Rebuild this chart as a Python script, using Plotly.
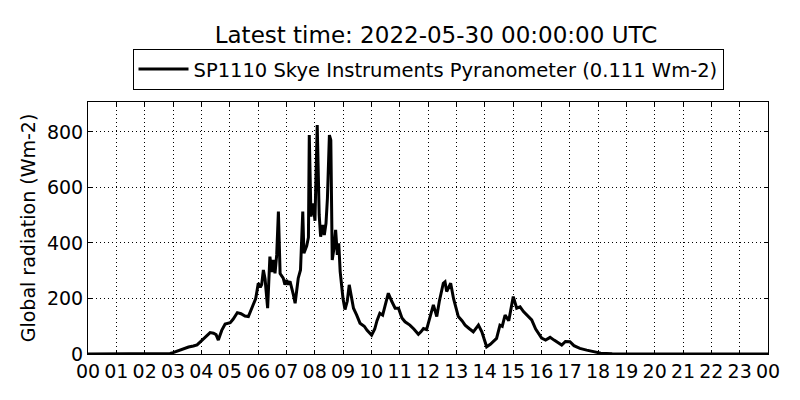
"""Global radiation for one day, SP1110 pyranometer."""

import plotly.graph_objects as go

# hour of day (UTC) and global radiation (Wm-2)
hours = [
    0.0, 1.0, 2.0, 2.5, 2.9, 3.0, 3.2, 3.36, 3.55, 3.72, 3.85, 4.01, 4.2, 4.31,
    4.43, 4.52, 4.6, 4.72, 4.84, 4.95, 5.02, 5.12, 5.27, 5.4, 5.54, 5.66, 5.75,
    5.84, 5.92, 6.01, 6.08, 6.13, 6.19, 6.25, 6.34, 6.42, 6.49, 6.54, 6.6, 6.66,
    6.72, 6.78, 6.89, 6.95, 7.01, 7.07, 7.13, 7.25, 7.31, 7.42, 7.5, 7.58, 7.62,
    7.72, 7.78, 7.81, 7.87, 7.95, 8.01, 8.09, 8.16, 8.21, 8.29, 8.34, 8.4, 8.45,
    8.52, 8.57, 8.62, 8.68, 8.74, 8.8, 8.85, 8.9, 9.0, 9.07, 9.15, 9.22, 9.3,
    9.37, 9.48, 9.6, 9.75, 9.85, 10.01, 10.12, 10.2, 10.3, 10.4, 10.5, 10.6,
    10.72, 10.84, 10.96, 11.08, 11.19, 11.3, 11.36, 11.5, 11.66, 11.75, 11.84,
    11.95, 12.1, 12.19, 12.31, 12.4, 12.54, 12.6, 12.66, 12.8, 12.9, 13.07,
    13.2, 13.31, 13.45, 13.6, 13.78, 13.9, 14.07, 14.2, 14.42, 14.54, 14.62,
    14.72, 14.85, 15.01, 15.13, 15.25, 15.37, 15.5, 15.66, 15.8, 16.01, 16.15,
    16.31, 16.45, 16.6, 16.72, 16.85, 17.01, 17.15, 17.36, 17.6, 17.83, 18.1,
    18.5, 19.0, 20.0, 21.0, 22.0, 23.0, 24.0,
]
radiation = [
    0, 0, 0, 1, 2, 5, 12, 20, 25, 29, 33, 48, 65, 77,
    75, 70, 50, 85, 108, 110, 113, 125, 149, 145, 137, 135, 160,
    183, 200, 255, 240, 250, 303, 270, 165, 351, 295, 339, 291, 357,
    513, 290, 273, 250, 267, 250, 262, 213, 183, 273, 303, 513, 363,
    390, 420, 789, 495, 543, 480, 825, 501, 423, 465, 429, 471, 561,
    789, 770, 339, 380, 447, 357, 399, 297, 200, 160, 190, 249, 200,
    165, 141, 111, 100, 85, 68, 90, 120, 147, 140, 180, 219,
    190, 165, 165, 130, 116, 110, 104, 90, 71, 80, 92,
    88, 140, 177, 135, 190, 255, 260, 225, 255, 200, 135,
    120, 104, 92, 80, 104, 80, 26, 35, 56, 104, 100,
    140, 120, 207, 165, 170, 153, 140, 123, 90, 57, 50,
    60, 50, 40, 32, 45, 44, 30, 20, 14, 10, 3,
    1, 0, 0, 0, 0, 0, 0,
]

tick_hours = list(range(25))
tick_labels = [f"{h % 24:02d}" for h in tick_hours]

font = "DejaVu Sans"

fig = go.Figure()
fig.add_trace(
    go.Scatter(
        x=hours,
        y=radiation,
        mode="lines",
        name="SP1110 Skye Instruments Pyranometer (0.111 Wm-2)",
        line={"color": "black", "width": 3},
    )
)

axis_style = dict(
    automargin=False,
    showline=True,
    linecolor="black",
    linewidth=1,
    mirror="ticks",
    ticks="inside",
    ticklen=4,
    tickcolor="black",
    showgrid=True,
    gridcolor="black",
    gridwidth=1,
    griddash="1px,3px",
    zeroline=False,
    tickfont={"family": font, "size": 19, "color": "black"},
)

fig.update_xaxes(
    range=[0, 24],
    tickvals=tick_hours,
    ticktext=tick_labels,
    **axis_style,
)
fig.update_yaxes(
    range=[0, 908],
    tickvals=[0, 200, 400, 600, 800],
    title={"text": "Global radiation (Wm-2)", "font": {"family": font, "size": 19}, "standoff": 6},
    **axis_style,
)

# the page body adds an 8px offset, so margins are shifted to compensate
fig.update_layout(
    width=800,
    height=400,
    margin={"l": 80, "r": 40, "t": 94, "b": 54},
    paper_bgcolor="white",
    plot_bgcolor="white",
    font={"family": font, "color": "black"},
    title={
        "text": "Latest time: 2022-05-30 00:00:00 UTC",
        "font": {"family": font, "size": 23, "color": "black"},
        "x": 0.535,
        "xanchor": "center",
        "y": 0.9325,
        "yanchor": "middle",
        "yref": "container",
    },
    showlegend=True,
    legend={
        "x": 0.5,
        "xanchor": "center",
        "y": 1.048,
        "yanchor": "bottom",
        "bordercolor": "black",
        "borderwidth": 1,
        "bgcolor": "white",
        "itemwidth": 50,
        "font": {"family": font, "size": 19.5, "color": "black"},
    },
)

fig.write_html("out.html")
